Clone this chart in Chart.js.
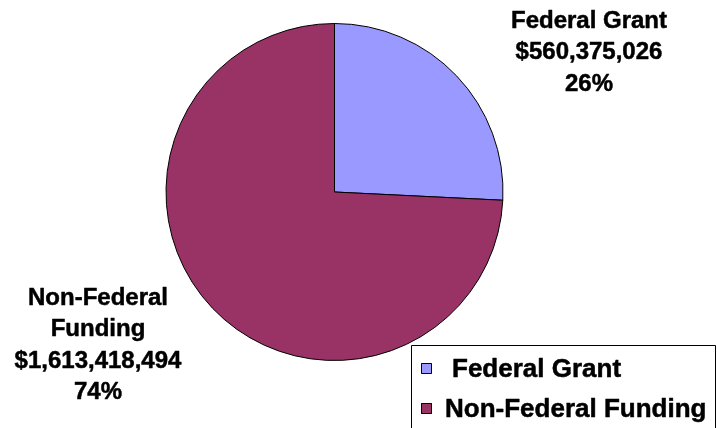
<!DOCTYPE html>
<html>
<head>
<meta charset="utf-8">
<script src="https://cdn.jsdelivr.net/npm/chart.js@4"></script>
<style>
html,body{margin:0;padding:0;background:#fff;}
#wrap{width:717px;height:428px;position:relative;}
</style>
</head>
<body>
<div id="wrap"><canvas id="c" width="717" height="428"></canvas></div>
<script>
const categories = ["Federal Grant", "Non-Federal Funding"];
const labelLines = [["Federal Grant"], ["Non-Federal", "Funding"]];
const amounts = [560375026, 1613418494];
const amountLabels = ["$560,375,026", "$1,613,418,494"];
const percentLabels = ["26%", "74%"];
const colors = ["#9999FF", "#993366"];

const FONT = '"Liberation Sans", Arial, sans-serif';

function boldText(ctx, t, x, y) {
  ctx.fillText(t, x, y);
  ctx.strokeText(t, x, y);
}

const annot = {
  id: 'annot',
  afterDraw(chart) {
    const ctx = chart.ctx;
    ctx.save();
    // slice labels
    const pos = [{x: 589, y: 21}, {x: 98, y: 298}];
    const lh = 31.6;
    ctx.fillStyle = '#000';
    ctx.strokeStyle = '#000';
    ctx.lineWidth = 0.5;
    ctx.lineJoin = 'round';
    ctx.textAlign = 'center';
    ctx.textBaseline = 'middle';
    ctx.font = 'bold 24px ' + FONT;
    chart.data.labels.forEach((lab, i) => {
      const lines = labelLines[i].concat([amountLabels[i], percentLabels[i]]);
      lines.forEach((t, j) => boldText(ctx, t, pos[i].x, pos[i].y + j * lh));
    });
    // legend box
    const bx = 411.5, by = 345.5, bw = 304, bh = 100;
    ctx.lineWidth = 1;
    ctx.strokeRect(bx, by, bw, bh);
    ctx.textAlign = 'left';
    ctx.font = 'bold 26px ' + FONT;
    const bg = chart.data.datasets[0].backgroundColor;
    chart.data.labels.forEach((lab, i) => {
      const cy = 369 + i * 40;
      ctx.fillStyle = bg[i];
      ctx.fillRect(421, cy - 6, 11, 11);
      ctx.lineWidth = 1;
      ctx.strokeRect(421.5, cy - 5.5, 10, 10);
      ctx.fillStyle = '#000';
      ctx.lineWidth = 0.5;
      boldText(ctx, lab, i === 0 ? 452 : 445, cy + 1);
    });
    ctx.restore();
  }
};

new Chart(document.getElementById('c'), {
  type: 'pie',
  data: {
    labels: categories,
    datasets: [{
      data: amounts,
      backgroundColor: colors,
      borderColor: '#000',
      borderWidth: 1
    }]
  },
  options: {
    responsive: false,
    animation: false,
    layout: { padding: { left: 165, right: 213, top: 23, bottom: 67 } },
    plugins: { legend: { display: false }, tooltip: { enabled: false } }
  },
  plugins: [annot]
});
</script>
</body>
</html>
